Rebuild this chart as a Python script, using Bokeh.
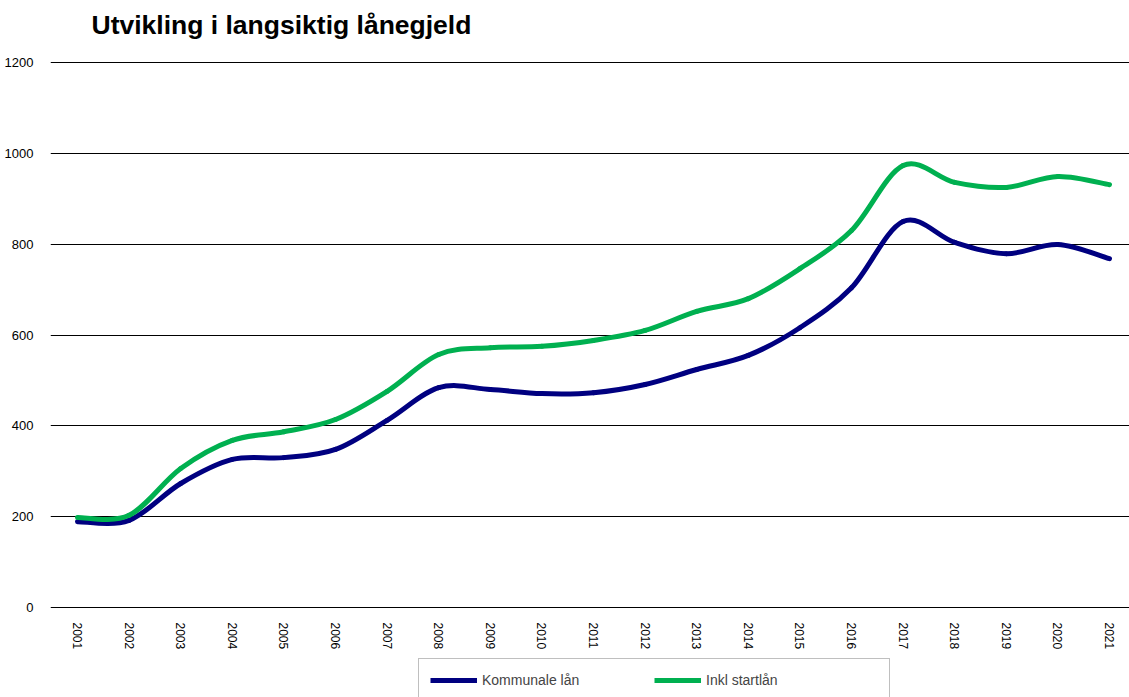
from bokeh.plotting import figure
from bokeh.models import Legend, LegendItem, FixedTicker, Range1d, ColumnDataSource, Label
from bokeh.layouts import column
from bokeh.embed import file_html
from bokeh.resources import INLINE
import numpy as np

years = [2001, 2002, 2003, 2004, 2005, 2006, 2007, 2008, 2009, 2010, 2011,
         2012, 2013, 2014, 2015, 2016, 2017, 2018, 2019, 2020, 2021]
kommunale = [189, 192, 273, 326, 330, 348, 412, 484, 480, 471, 473,
             491, 524, 555, 616, 704, 850, 804, 779, 799, 768]
inkl_start = [198, 203, 306, 368, 387, 414, 476, 557, 572, 575, 588,
              610, 652, 680, 746, 830, 973, 936, 925, 949, 931]
y_ticks = [0, 200, 400, 600, 800, 1000, 1200]
title_text = "Utvikling i langsiktig lånegjeld"

NAVY = "#000080"
GREEN = "#00B050"
FONT = "Liberation Sans"


def strip(height):
    f = figure(width=1129, height=height, output_backend="svg",
               toolbar_location=None, x_range=Range1d(0, 1),
               y_range=Range1d(0, 1), min_border_left=0, min_border_right=0,
               min_border_top=0, min_border_bottom=0)
    f.axis.visible = False
    f.grid.visible = False
    f.outline_line_color = None
    f.frame_align = False
    return f


# title strip
tf = strip(44)
tf.add_layout(Label(x=91, y=20, x_units="screen", y_units="screen",
                    text=title_text, text_font=FONT, text_font_size="26.5px",
                    text_font_style="bold", text_color="black",
                    text_baseline="alphabetic", text_align="left"))

# main chart
p = figure(width=1129, height=608, output_backend="svg", toolbar_location=None,
           x_range=Range1d(2000.4767, 2021.3876), y_range=Range1d(-4.4, 1204.4),
           min_border_left=50, min_border_right=0, min_border_top=16,
           min_border_bottom=43)
p.outline_line_color = None
p.frame_align = False


def smooth_segments(xs, ys):
    """Excel-style smoothed line: cubic Bezier between consecutive points."""
    xs = np.asarray(xs, float)
    ys = np.asarray(ys, float)
    n = len(xs)
    x0, y0, x1, y1, cx0, cy0, cx1, cy1 = ([] for _ in range(8))
    for i in range(n - 1):
        ip = max(i - 1, 0)
        inn = min(i + 2, n - 1)
        x0.append(xs[i]); y0.append(ys[i])
        x1.append(xs[i + 1]); y1.append(ys[i + 1])
        cx0.append(xs[i] + (xs[i + 1] - xs[ip]) / 6.0)
        cy0.append(ys[i] + (ys[i + 1] - ys[ip]) / 6.0)
        cx1.append(xs[i + 1] - (xs[inn] - xs[i]) / 6.0)
        cy1.append(ys[i + 1] - (ys[inn] - ys[i]) / 6.0)
    return ColumnDataSource(dict(x0=x0, y0=y0, x1=x1, y1=y1,
                                 cx0=cx0, cy0=cy0, cx1=cx1, cy1=cy1))


for vals, col in ((kommunale, NAVY), (inkl_start, GREEN)):
    src = smooth_segments(years, vals)
    p.bezier(x0="x0", y0="y0", x1="x1", y1="y1", cx0="cx0", cy0="cy0",
             cx1="cx1", cy1="cy1", source=src, line_color=col, line_width=5,
             line_cap="round")

# axes
p.yaxis.ticker = FixedTicker(ticks=y_ticks)
p.xaxis.ticker = FixedTicker(ticks=years)
for ax in (p.xaxis[0], p.yaxis[0]):
    ax.axis_line_color = None
    ax.major_tick_line_color = None
    ax.minor_tick_line_color = None
    ax.major_label_text_font = FONT
    ax.major_label_text_color = "black"
p.yaxis.major_label_text_font_size = "13px"
p.xaxis.major_label_text_font_size = "12px"
p.yaxis.major_label_standoff = 11
p.xaxis.major_label_standoff = 7
p.xaxis.major_label_orientation = "vertical"

p.xgrid.grid_line_color = None
p.ygrid.grid_line_color = "black"
p.ygrid.grid_line_width = 1

# legend strip below the chart
lf = strip(45)
# legend-only renderers (single point, draws nothing)
r1 = lf.line(x=years[:1], y=kommunale[:1], line_color=NAVY, line_width=5)
r2 = lf.line(x=years[:1], y=inkl_start[:1], line_color=GREEN, line_width=5)

legend = Legend(items=[LegendItem(label="Kommunale lån", renderers=[r1]),
                       LegendItem(label="Inkl startlån", renderers=[r2])],
                orientation="horizontal", location=(418, -5),
                padding=11, spacing=0, glyph_width=47, label_standoff=5,
                label_width=172, label_text_font=FONT,
                label_text_font_size="14px", border_line_color="#808080",
                border_line_width=1, background_fill_color="white",
                margin=0)
lf.add_layout(legend, "center")

layout = column(tf, p, lf, spacing=0)
open("out.html", "w").write(file_html(layout, INLINE))
